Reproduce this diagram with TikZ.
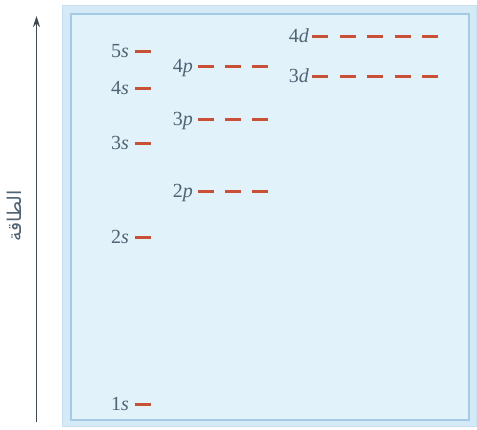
\documentclass[tikz,border=0pt]{standalone}
\usepackage{fontspec}
\usetikzlibrary{arrows.meta}
\setmainfont{Liberation Serif}
\newfontfamily\labelfont{Liberation Serif}
\newfontfamily\arabicfont[Script=Arabic]{DejaVu Sans}
\TeXXeTstate=1
\definecolor{dashred}{RGB}{200,80,55}
\definecolor{lblcol}{RGB}{80,100,115}
\definecolor{boxfill}{RGB}{226,242,251}
\definecolor{bandfill}{RGB}{212,234,247}
\definecolor{boxline}{RGB}{165,202,230}
\definecolor{arrowcol}{RGB}{60,72,82}
\begin{document}
\begin{tikzpicture}[x=1pt,y=-1pt,
  lvl/.style={draw=dashred, line width=3pt},
  orb/.style={font=\labelfont\fontsize{20}{20}\selectfont, text=lblcol, anchor=base east, inner sep=0pt}]
\useasboundingbox (0,0) rectangle (477,430);
\fill[white] (0,0) rectangle (477,430);
% frame
\fill[bandfill, draw=boxline!60, line width=0.8pt] (62,5) rectangle (476,426);
\fill[boxfill, draw=boxline, line width=1.2pt] (71,14) rectangle (469,420);
% energy axis
\coordinate (abot) at (36.5,422);
\coordinate (atop) at (36.5,16);
\draw[arrowcol, line width=1.8pt, -{Stealth[length=11pt,width=7pt]}] (abot) -- (atop);
\node[rotate=90, text=lblcol, font=\arabicfont\fontsize{19}{19}\selectfont, inner sep=0pt] (elbl) at (14,216) {\beginR الطاقة\endR};
% s levels
\foreach \n/\y in {5/51.5,4/88.5,3/143.5,2/237.5,1/404.5}{
  \node[orb] (s\n) at (129,\y+6.5) {\n\textit{s}};
  \draw[lvl] (135,\y) -- (151,\y);
}
% p levels
\foreach \n/\y in {4/66.5,3/119.5,2/191.5}{
  \node[orb] (p\n) at (193,\y+6.5) {\n\textit{p}};
  \foreach \xa in {198,225,252}{
    \draw[lvl] (\xa,\y) -- (\xa+16,\y);
  }
}
% d levels
\foreach \n/\y in {4/36.5,3/76.5}{
  \node[orb] (d\n) at (309,\y+6.5) {\n\textit{d}};
  \foreach \xa in {312,340,367,395,422}{
    \draw[lvl] (\xa,\y) -- (\xa+16,\y);
  }
}
\end{tikzpicture}
\end{document}
